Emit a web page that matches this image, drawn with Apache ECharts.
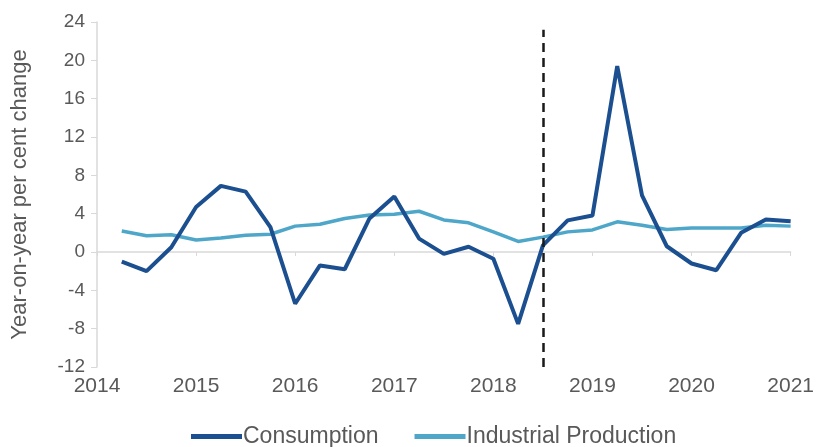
<!DOCTYPE html>
<html>
<head>
<meta charset="utf-8">
<script src="https://cdn.jsdelivr.net/npm/echarts@6/dist/echarts.min.js"></script>
<style>html,body{margin:0;padding:0;background:#fff}#c{width:817px;height:447px}</style>
</head>
<body>
<div id="c"></div>
<script>
// Quarterly time points (year fractions), 2014 Q1 .. 2020 Q4
const periods = [2014.25,2014.5,2014.75,2015,2015.25,2015.5,2015.75,2016,2016.25,2016.5,2016.75,2017,2017.25,2017.5,2017.75,2018,2018.25,2018.5,2018.75,2019,2019.25,2019.5,2019.75,2020,2020.25,2020.5,2020.75,2021];
const consumption = [-1.0,-2.0,0.5,4.7,6.9,6.3,2.6,-5.4,-1.4,-1.8,3.5,5.8,1.4,-0.2,0.55,-0.7,-7.5,0.7,3.3,3.8,19.4,5.9,0.6,-1.2,-1.9,2.0,3.4,3.2];
const industrial = [2.2,1.7,1.8,1.25,1.45,1.75,1.85,2.7,2.9,3.5,3.85,3.95,4.25,3.35,3.05,2.1,1.1,1.55,2.1,2.3,3.15,2.8,2.35,2.5,2.5,2.5,2.8,2.7];
const yearTicks = [2014,2015,2016,2017,2018,2019,2020,2021];
const breakYear = 2018.5;
const yTicks = [-12,-8,-4,0,4,8,12,16,20,24];

const pair = (xs, ys) => xs.map((x, i) => [x, ys[i]]);
const font = 'Liberation Sans';
const chart = echarts.init(document.getElementById('c'));
chart.setOption({
  animation: false,
  grid: {left: 97, right: 22, top: 22, bottom: 80},
  legend: {
    left: 191, top: 425, padding: 0,
    itemWidth: 51, itemHeight: 5, itemGap: 36, icon: 'rect',
    textStyle: {fontFamily: font, fontSize: 23, color: '#595959', padding: [0,0,0,-4]},
    data: ['Consumption', 'Industrial Production']
  },
  xAxis: [{
    type: 'value', min: yearTicks[0], max: yearTicks[yearTicks.length-1], interval: 1,
    axisLine: {onZero: true, lineStyle: {color: '#d9d9d9', width: 1.5}},
    axisTick: {show: true, inside: false, length: 4, lineStyle: {color: '#d9d9d9'}},
    axisLabel: {show: false}, splitLine: {show: false}
  }, {
    type: 'value', position: 'bottom', min: yearTicks[0], max: yearTicks[yearTicks.length-1], interval: 1,
    axisLine: {show: false, onZero: false}, axisTick: {show: false}, splitLine: {show: false},
    axisLabel: {fontFamily: font, fontSize: 21, color: '#595959', margin: 9, formatter: v => String(v)}
  }],
  yAxis: {
    type: 'value', min: yTicks[0], max: yTicks[yTicks.length-1], interval: 4,
    name: 'Year-on-year per cent change', nameLocation: 'middle', nameGap: 66,
    nameTextStyle: {fontFamily: font, fontSize: 22, color: '#595959'},
    axisLine: {show: true, lineStyle: {color: '#d9d9d9', width: 1.5}},
    axisTick: {show: true, length: 6, lineStyle: {color: '#d9d9d9'}},
    axisLabel: {fontFamily: font, fontSize: 19, color: '#595959', margin: 12},
    splitLine: {show: false}
  },
  series: [{
    name: 'Consumption', type: 'line', data: pair(periods, consumption),
    showSymbol: false, symbol: 'none',
    lineStyle: {color: '#1b4f8f', width: 4}, itemStyle: {color: '#1b4f8f'},
    z: 3,
    markLine: {
      silent: true, symbol: 'none', label: {show: false},
      lineStyle: {color: '#1a1a1a', type: [9, 6], width: 2.5},
      data: [[{coord: [breakYear, -12]}, {coord: [breakYear, 23.2]}]]
    }
  }, {
    name: 'Industrial Production', type: 'line', data: pair(periods, industrial),
    showSymbol: false, symbol: 'none',
    lineStyle: {color: '#4ea6c9', width: 3.5}, itemStyle: {color: '#4ea6c9'},
    z: 2
  }]
});
</script>
</body>
</html>
